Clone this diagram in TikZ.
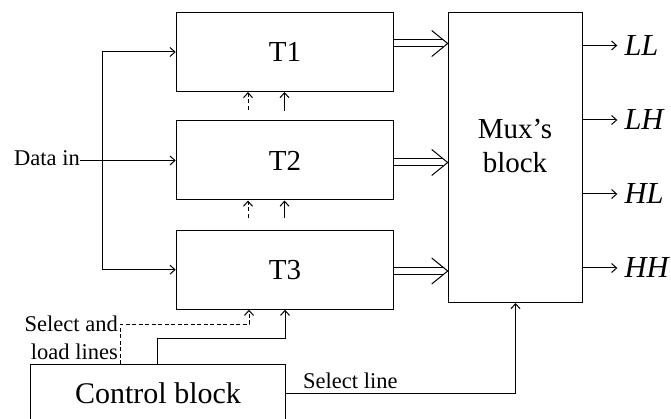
\documentclass[tikz,border=0pt]{standalone}
\usepackage{fontspec}
\setmainfont{Liberation Serif}
\usetikzlibrary{arrows.meta,calc}
\begin{document}
\begin{tikzpicture}[x=1pt,y=-1pt,
  blk/.style={draw, line width=1pt, inner sep=0pt, anchor=north west},
  ln/.style={line width=1pt},
  arr/.style={ln, -{Straight Barb[length=5pt,width=9pt]}},
  dsh/.style={dash pattern=on 4pt off 2.5pt},
  small/.style={font=\fontsize{22.5}{27}\selectfont, inner sep=0pt},
  big/.style={font=\fontsize{29}{34}\selectfont, inner sep=0pt},
  outl/.style={font=\fontsize{30.5}{34}\selectfont\itshape, inner sep=0pt},
]
\useasboundingbox (0,0) rectangle (671,419);
% blocks
\node[blk, big, minimum width=217.6pt, minimum height=79pt] (t1) at (175.7,12) {T1};
\node[blk, big, minimum width=217.6pt, minimum height=79pt] (t2) at (175.7,120.5) {T2};
\node[blk, big, minimum width=217.6pt, minimum height=79pt] (t3) at (175.7,229.7) {T3};
\node[blk, minimum width=134.6pt, minimum height=290pt] (mux) at (447.7,12) {};
\node[big, anchor=base] (muxa) at (515,139) {Mux’s};
\node[big, anchor=base] (muxb) at (515,173) {block};
\node[blk, font=\fontsize{30}{34}\selectfont, minimum width=255pt, minimum height=57pt] (ctrl) at (30,364) {Control block};
% data in
\node[small, anchor=base east] (din) at (80,166) {Data in};
\coordinate (bus) at (102.3,0);
\draw[arr] (din.east |- t2.west) -- (t2.west);
\draw[arr] (bus |- t2.west) |- (t1.west);
\draw[arr] (bus |- t2.west) |- (t3.west);
% inter-block control arrows
\coordinate (d1) at (248,110);
\coordinate (s1) at (284.5,111);
\coordinate (d2) at (248,218);
\coordinate (s2) at (284.5,218);
\draw[arr,dsh] (d1) -- (d1 |- t1.south);
\draw[arr] (s1) -- (s1 |- t1.south);
\draw[arr,dsh] (d2) -- (d2 |- t2.south);
\draw[arr] (s2) -- (s2 |- t2.south);
% select and load lines
\coordinate (sl) at (120,324);
\coordinate (sl2) at (157,338);
\coordinate (sl3) at (249,0);
\draw[arr,dsh] (ctrl.north -| sl) -- (sl) -| (sl3 |- t3.south);
\draw[arr] (ctrl.north -| sl2) -- (sl2) -| (t3.south);
\node[small, anchor=base east] (sla) at (118,331) {Select and};
\node[small, anchor=base east] (slb) at (118,359) {load lines};
% select line
\draw[arr] (ctrl.east) -| (mux.south);
\node[small, anchor=base west] (sel) at (303,388) {Select line};
% double arrows to mux
\coordinate (p1) at (0,43.5);
\coordinate (p2) at (0,162.5);
\coordinate (p3) at (0,271);
\foreach \i in {1,2,3}{
  \draw[ln] ($(t\i.east |- p\i)+(0,-3.5)$) -- ($(mux.west |- p\i)+(-4.3,-3.5)$);
  \draw[ln] ($(t\i.east |- p\i)+(0,3.5)$) -- ($(mux.west |- p\i)+(-4.3,3.5)$);
  \draw[ln, line join=miter] ($(mux.west |- p\i)+(-16,-13)$) -- (mux.west |- p\i) -- ($(mux.west |- p\i)+(-16,13)$);
}
% outputs
\coordinate (o1) at (0,45.5);
\coordinate (o2) at (0,120);
\coordinate (o3) at (0,194);
\coordinate (o4) at (0,268);
\foreach \i/\t in {1/LL,2/LH,3/HL,4/HH}{
  \draw[arr] (mux.east |- o\i) -- ($(mux.east |- o\i)+(34,0)$);
  \node[outl, anchor=west] (out\i) at ($(mux.east |- o\i)+(41,0)$) {\t};
}
\end{tikzpicture}
\end{document}
